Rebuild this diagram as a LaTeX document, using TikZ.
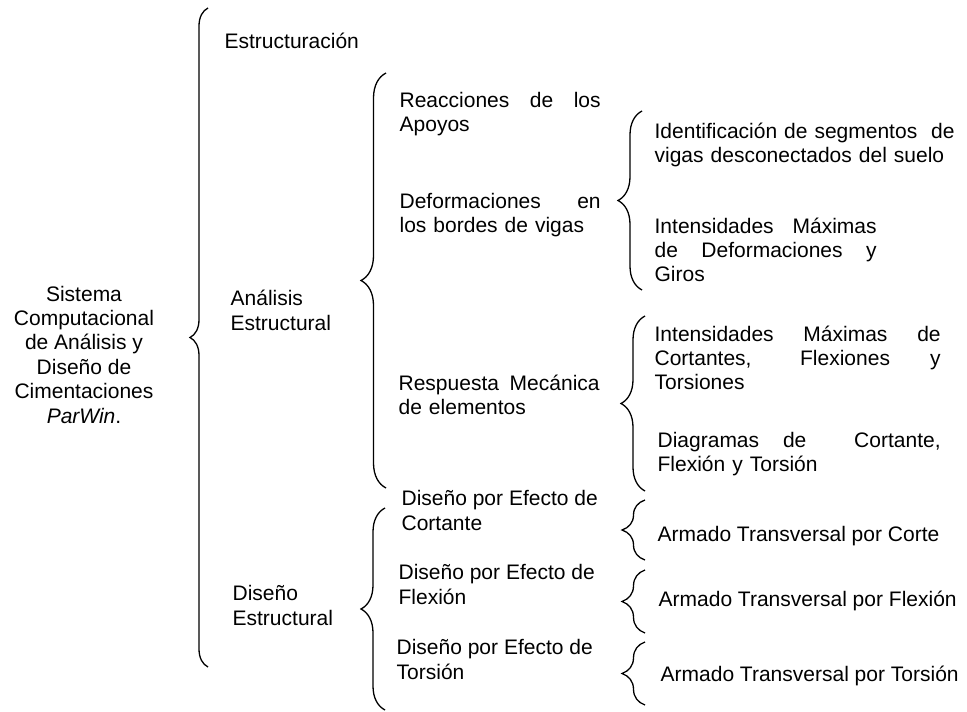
\documentclass[tikz,border=0pt]{standalone}
\usepackage{fontspec}
\setmainfont{Liberation Sans}
\usepackage{tikz}
\usetikzlibrary{decorations.pathreplacing}
\newcommand{\jline}[1]{{\spaceskip=0pt\xspaceskip=0pt\makebox[\hsize][s]{#1}}}

\begin{document}
\begin{tikzpicture}[x=1pt,y=-1pt,line width=1.3pt]
\tikzset{txt/.style={font=\fontsize{21}{24.4}\selectfont,inner sep=0pt,anchor=base west,align=left},
  brc/.style={decorate,decoration={brace,amplitude=#1}}}
\useasboundingbox (0,0) rectangle (967,712);
% first level (base = last line)
\node[txt,align=center,anchor=base] (sis) at (84,423) {Sistema\\Computacional\\de Análisis y\\Diseño de\\Cimentaciones\\\textit{ParWin}.};
\node[txt] (est) at (224,48) {Estructuración};
\node[txt] (ana) at (230,330) {Análisis\\Estructural};
\node[txt] (dis) at (232,625) {Diseño\\Estructural};
% second level
\node[txt,text width=201pt] (rea) at (399,107) {\jline{Reacciones de los}\\Apoyos};
\node[txt,text width=201pt] (def) at (399,208) {\jline{Deformaciones en}\\los bordes de vigas};
\node[txt,text width=201pt] (res) at (398,390) {\jline{Respuesta Mecánica}\\de elementos};
\node[txt] (dco) at (401,530) {Diseño por Efecto de\\Cortante};
\node[txt] (dfl) at (398,604) {Diseño por Efecto de\\Flexión};
\node[txt] (dto) at (396,679) {Diseño por Efecto de\\Torsión};
% third level
\node[txt,text width=300pt] (ide) at (654,138) {\jline{Identificación de segmentos\ \ de}\\vigas desconectados del suelo};
\node[txt,text width=222pt] (imd) at (654,233) {\jline{Intensidades Máximas}\\\jline{de Deformaciones y}\\Giros};
\node[txt,text width=286pt] (imc) at (654,341) {\jline{Intensidades Máximas de}\\\jline{Cortantes, Flexiones y}\\Torsiones};
\node[txt,text width=283pt] (dia) at (657,447) {\jline{Diagramas de\ \ Cortante,}\\Flexión y Torsión};
\node[txt] (aco) at (657,541) {Armado Transversal por Corte};
\node[txt] (afl) at (658,606) {Armado Transversal por Flexión};
\node[txt] (ato) at (660,681) {Armado Transversal por Torsión};
% brace ends
\coordinate (b1a) at (208,667); \coordinate (b1b) at (208,8);
\coordinate (b2a) at (386,488); \coordinate (b2b) at (386,73);
\coordinate (b3a) at (385,710); \coordinate (b3b) at (385,508);
\coordinate (b4a) at (642,290); \coordinate (b4b) at (642,111);
\coordinate (b5a) at (645,491); \coordinate (b5b) at (645,316);
\coordinate (b6a) at (645,560); \coordinate (b6b) at (645,500);
\coordinate (b7a) at (645,633); \coordinate (b7b) at (645,570);
\coordinate (b8a) at (645,705); \coordinate (b8b) at (645,642);
\draw[brc=18pt] (b1a)--(b1b);
\draw[brc=25pt] (b2a)--(b2b);
\draw[brc=24pt] (b3a)--(b3b);
\draw[brc=24pt] (b4a)--(b4b);
\draw[brc=24pt] (b5a)--(b5b);
\draw[brc=23pt] (b6a)--(b6b);
\draw[brc=23pt] (b7a)--(b7b);
\draw[brc=23pt] (b8a)--(b8b);
\end{tikzpicture}
\end{document}
